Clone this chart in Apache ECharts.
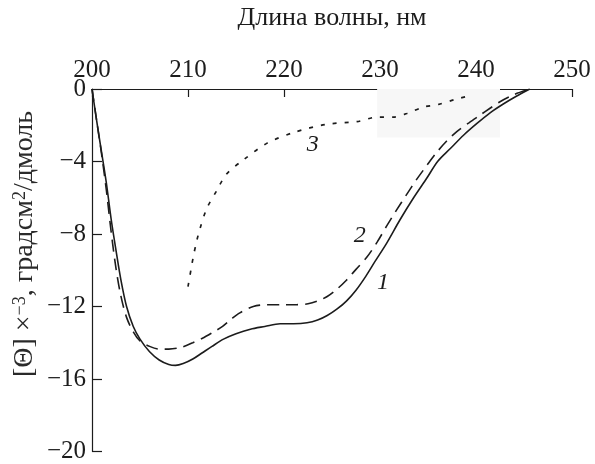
<!DOCTYPE html>
<html>
<head>
<meta charset="utf-8">
<script src="https://cdn.jsdelivr.net/npm/echarts@6/dist/echarts.min.js"></script>
<style>
html,body{margin:0;padding:0;background:#fff;}
#chart{width:595px;height:464px;}
</style>
</head>
<body>
<div id="chart"></div>
<script>
// Curve 1 (solid): wavelength (nm), [Θ]×10^-3
const curve1X = [200,200.5,201,201.5,202,202.5,203,203.6,204.3,205,206,207,208,208.7,209.5,210.5,211.5,212.5,213.7,215,216.5,218,219.6,221,222.4,223.5,224.5,225.5,226.5,227.5,228.5,229.5,230.7,232.1,233.5,234.9,236,237.3,238.7,240.1,241.5,242.8,244.2,245.6];
const curve1Y = [0,-1.8,-3.5,-5.2,-7.2,-8.9,-10.5,-12,-13.1,-13.8,-14.5,-14.95,-15.2,-15.25,-15.15,-14.9,-14.55,-14.2,-13.8,-13.5,-13.25,-13.1,-12.95,-12.95,-12.9,-12.75,-12.5,-12.15,-11.7,-11.1,-10.35,-9.5,-8.5,-7.2,-6,-4.9,-4.0,-3.3,-2.55,-1.9,-1.3,-0.84,-0.4,0];
// Curve 2 (dashed)
const curve2X = [200,200.5,201,201.5,202,202.5,203,203.6,204.3,205,206,207,208,209.3,210.5,211.5,212.5,213.6,214.5,215.4,216.8,218.2,220,221.3,222.5,223.5,224.5,225.5,226.5,227.5,228.6,229.7,230.7,231.7,232.8,233.8,234.9,235.9,236.9,238,239.3,240.4,241.5,242.5,244,245.6];
const curve2Y = [0,-1.8,-3.6,-5.6,-7.9,-9.9,-11.4,-12.6,-13.4,-13.9,-14.2,-14.35,-14.35,-14.25,-14.0,-13.75,-13.45,-13.1,-12.7,-12.35,-12.0,-11.9,-11.9,-11.9,-11.85,-11.7,-11.45,-11.05,-10.55,-9.95,-9.3,-8.45,-7.55,-6.7,-5.8,-5.0,-4.2,-3.5,-2.9,-2.35,-1.85,-1.45,-1.05,-0.7,-0.3,0];
// Curve 3 (dotted)
const curve3X = [210.0,210.3,210.55,210.9,211.25,211.95,213,214,215.8,218.2,221,224.4,227.6,229.7,231.4,232.8,234.5,236.1,237.8,239.5];
const curve3Y = [-10.9,-10.0,-9.26,-8.4,-7.7,-6.6,-5.6,-4.7,-3.9,-3.0,-2.4,-1.95,-1.8,-1.55,-1.55,-1.35,-1.0,-0.85,-0.58,-0.35];
// Curve labels: [text, x, y]
const curveLabels = [['1',230.3,-10.7],['2',227.9,-8.1],['3',223.0,-3.05]];
const xTicks = [200,210,220,230,240,250];
const yTicks = [0,-4,-8,-12,-16,-20];
const xTitle = 'Длина волны, нм';

const zip = (xs, ys) => xs.map((x, i) => [x, ys[i]]);
const serif = 'Liberation Serif';
const ink = '#1c1c1c';

function labelPoint(idx){
  const l = curveLabels[idx];
  return {
    symbol: 'circle', symbolSize: 0, silent: true,
    label: {show: true, position: 'inside', formatter: l[0], fontFamily: serif, fontStyle: 'italic', fontSize: 24, color: ink},
    data: [{coord: [l[1], l[2]]}]
  };
}

const chart = echarts.init(document.getElementById('chart'), null, {renderer: 'canvas'});
chart.setOption({
  animation: false,
  backgroundColor: '#fff',
  grid: {left: 92, right: 23, top: 74, bottom: 10, containLabel: false},
  xAxis: {
    type: 'value', position: 'top', min: 200, max: 250, interval: 10,
    name: xTitle, nameLocation: 'middle', nameGap: 58,
    nameTextStyle: {fontFamily: serif, fontSize: 26, color: ink},
    axisLine: {show: true, onZero: false, lineStyle: {color: ink, width: 1.2}},
    axisTick: {show: true, inside: true, length: 8, lineStyle: {color: ink, width: 1.2}},
    axisLabel: {fontFamily: serif, fontSize: 25, color: ink, margin: 6},
    splitLine: {show: false}
  },
  yAxis: {
    type: 'value', min: -20, max: 0, interval: 4,
    axisLine: {show: true, onZero: false, lineStyle: {color: ink, width: 1.2}},
    axisTick: {show: true, inside: true, length: 10, lineStyle: {color: ink, width: 1.2}},
    axisLabel: {fontFamily: serif, fontSize: 25, color: ink, margin: 6,
      formatter: v => (v < 0 ? '\u2212' + Math.abs(v) : String(v))},
    splitLine: {show: false}
  },
  graphic: [{
    type: 'text', x: 25, y: 244, rotation: Math.PI / 2,
    style: {
      text: '[Θ] ×{s|−3}, градсм{s|2}/дмоль',
      fontFamily: serif, fontSize: 28, fill: '#2a2a2a',
      align: 'center', verticalAlign: 'middle',
      rich: {s: {fontFamily: serif, fontSize: 18, verticalAlign: 'top', fill: '#2a2a2a', padding: [0,0,10,0]}}
    }
  }],
  series: [
    {
      type: 'line', data: zip(curve1X, curve1Y), smooth: 0.3, showSymbol: false, symbol: 'none',
      lineStyle: {color: ink, width: 1.6}, z: 3,
      markPoint: labelPoint(0)
    },
    {
      type: 'line', data: zip(curve2X, curve2Y), smooth: 0.3, showSymbol: false, symbol: 'none',
      lineStyle: {color: ink, width: 1.6, type: [12, 7]}, z: 3,
      markPoint: labelPoint(1)
    },
    {
      type: 'line', data: zip(curve3X, curve3Y), smooth: 0.3, showSymbol: false, symbol: 'none',
      lineStyle: {color: ink, width: 1.7, type: [4, 8]}, z: 3,
      markPoint: labelPoint(2),
      markArea: {silent: true, itemStyle: {color: '#f7f7f7'}, data: [[{coord: [229.7, 0]}, {coord: [242.5, -2.68]}]]}
    }
  ]
});
</script>
</body>
</html>
